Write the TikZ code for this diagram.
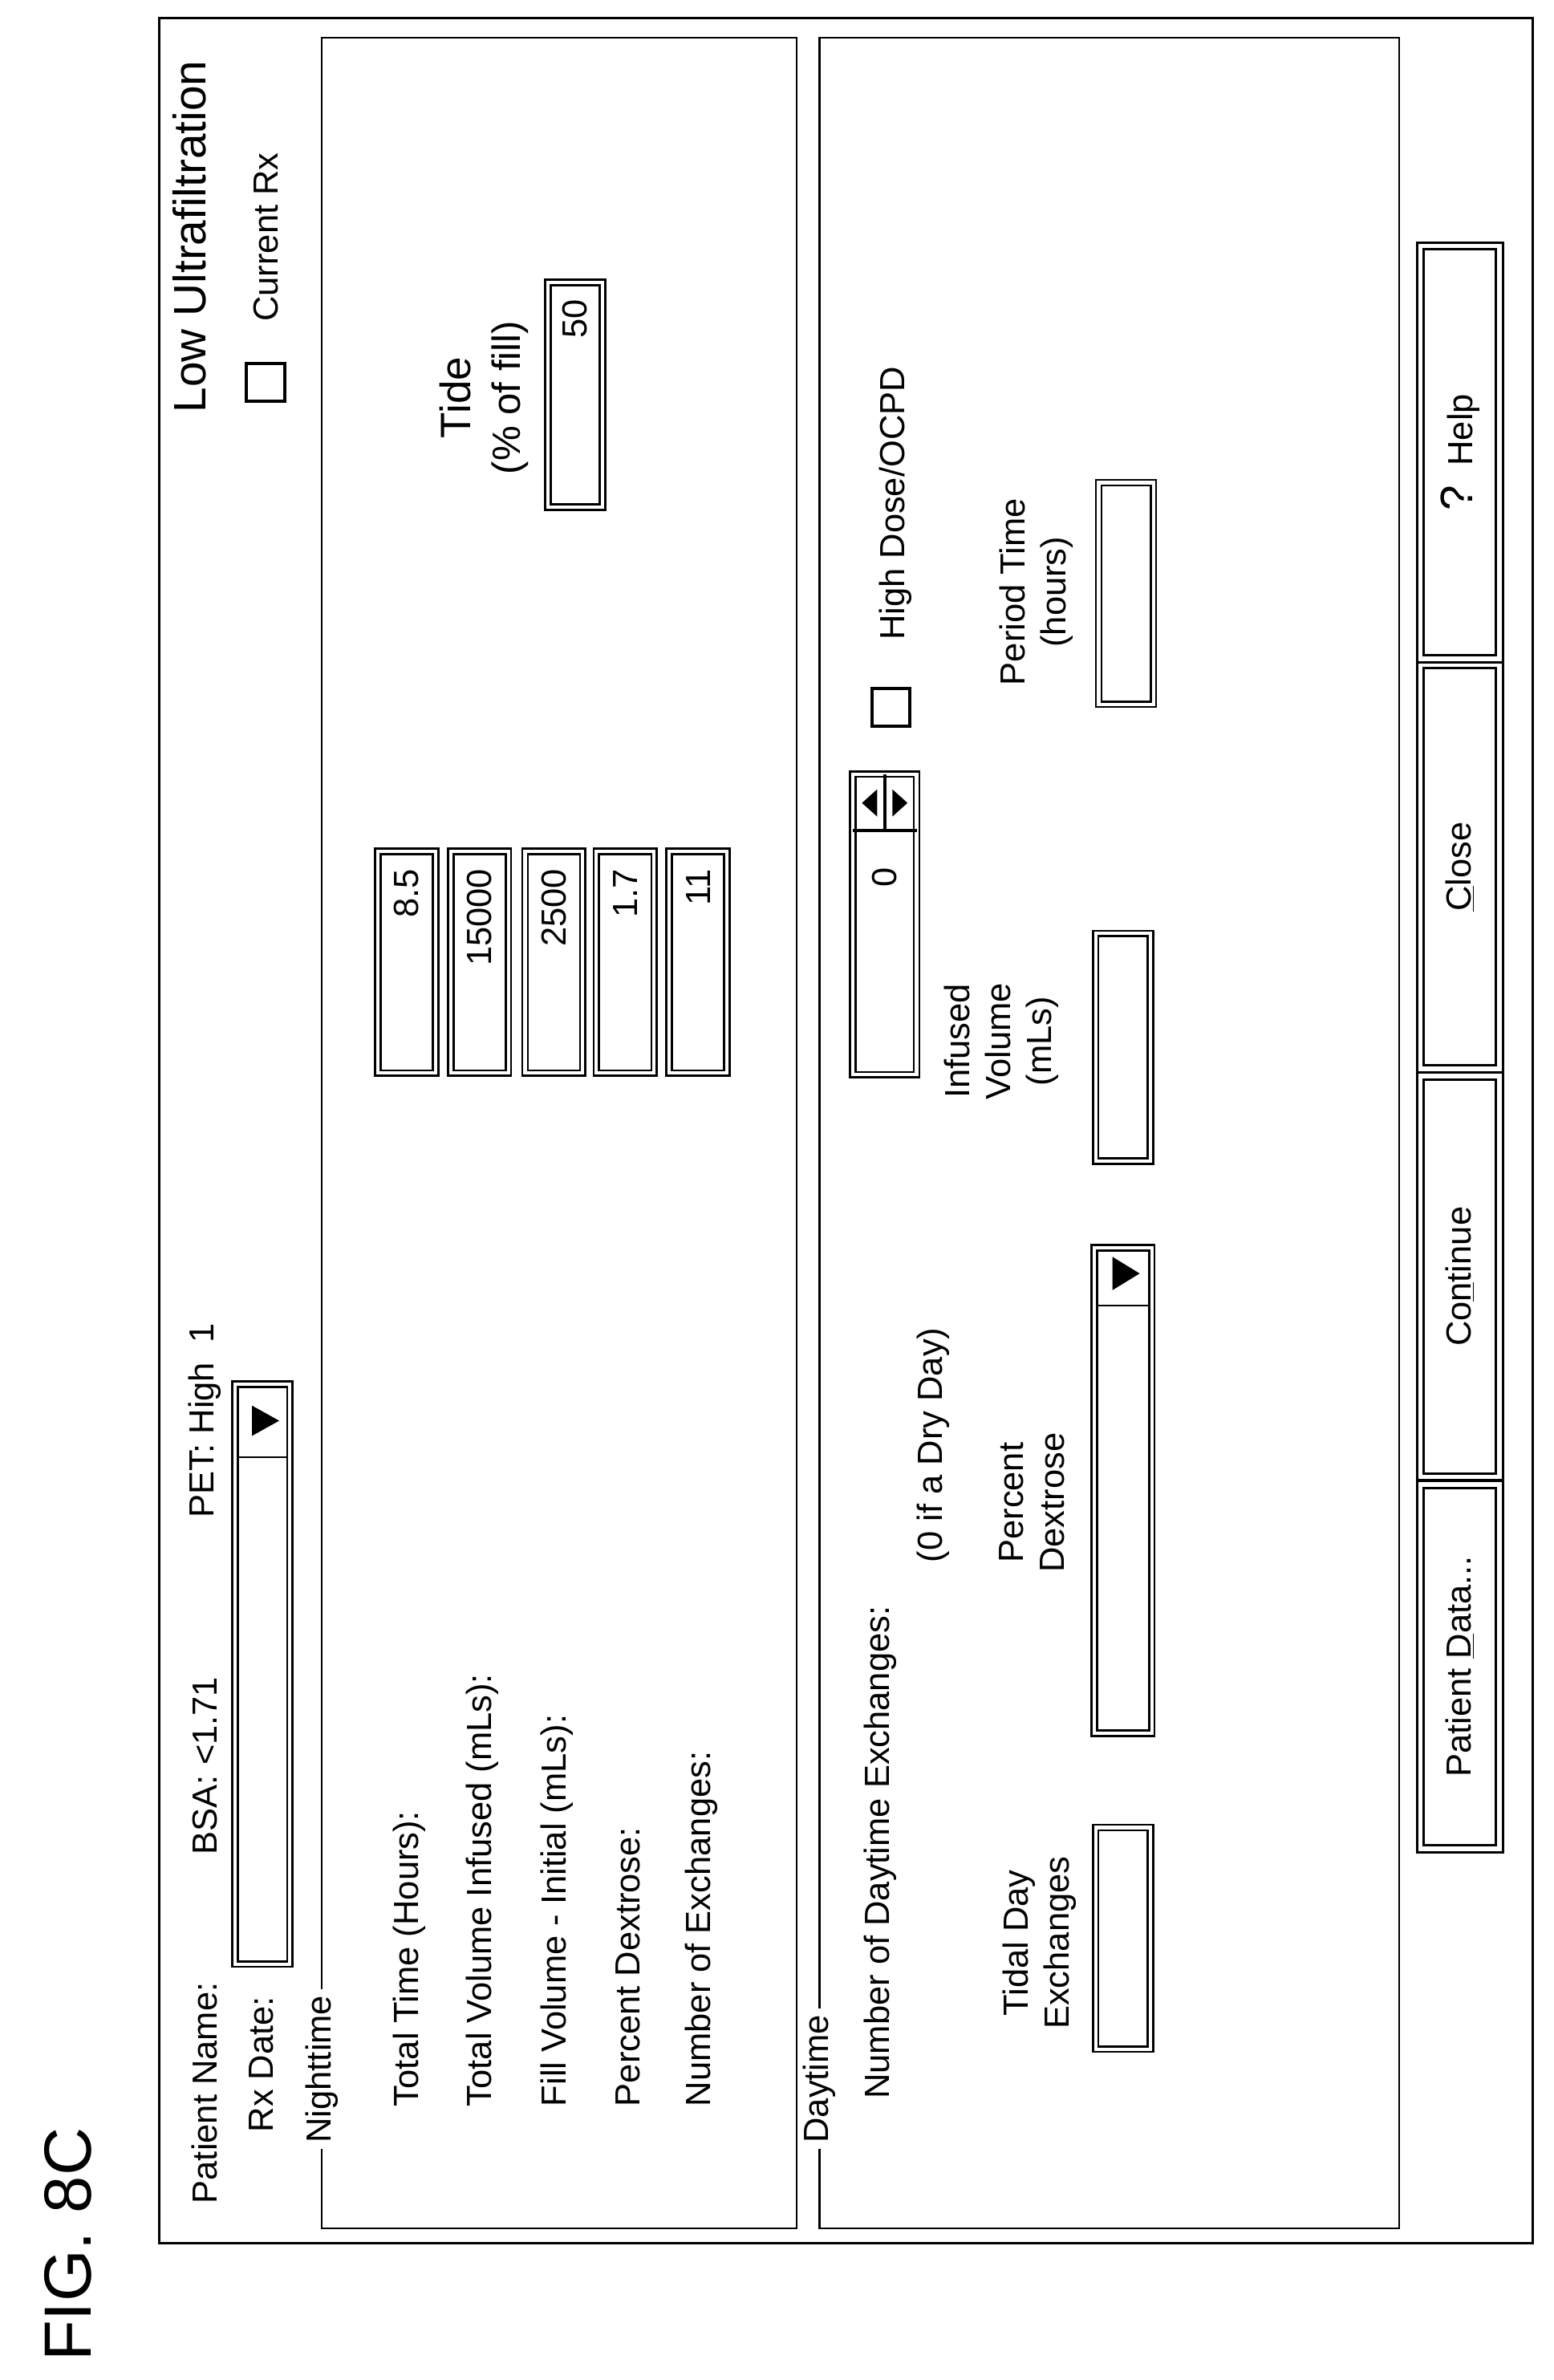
\documentclass[tikz,border=0pt]{standalone}
\usepackage{fontspec}
\setmainfont{Liberation Sans}
\usetikzlibrary{positioning}

\tikzset{
  lbl/.style={rotate=90, anchor=west, inner sep=0pt, font=\fontsize{23}{26}\selectfont},
  ctr/.style={rotate=90, anchor=center, inner sep=0pt, align=center, font=\fontsize{23}{27}\selectfont},
  field/.style={draw, line width=1.4pt, double, double distance=2.2pt, inner sep=0pt},
  button/.style={draw, line width=1.6pt, double, double distance=3pt, inner sep=0pt},
  group/.style={draw, line width=1.2pt},
  check/.style={draw, line width=2pt, inner sep=0pt, minimum size=25pt},
  tri/.style={fill=black},
}

\begin{document}
\begin{tikzpicture}[x=1pt, y=-1pt]
\useasboundingbox (0,0) rectangle (1024,1568);

% title
\node[lbl, font=\fontsize{44}{48}\selectfont] (fig) at (45,1556) {FIG. 8C};

% window and groups
\draw[line width=1.4pt] (105,12) rectangle (1010,1478);
\draw[group] (212,25) rectangle (525,1468);
\draw[group] (540,25) rectangle (922,1468);
\node[lbl, fill=white, inner sep=4pt] (night) at (212,1416) {Nighttime};
\node[lbl, fill=white, inner sep=4pt] (day) at (540,1416) {Daytime};

% header
\node[lbl] (pname) at (135,1452) {Patient Name:};
\node[lbl] (bsa) at (135,1222) {BSA: <1.71};
\node[lbl] (pet) at (135,1000) {PET: High \ 1};
\node[lbl] (rxdate) at (172,1405) {Rx Date:};
\node[field, minimum width=36pt, minimum height=382pt] (rxbox) at (173,1103) {};
\draw[line width=1.2pt] (157,960) -- (190,960);
\fill[tri] (166,926) -- (166,946) -- (184,936) -- cycle;

\node[lbl, font=\fontsize{30}{34}\selectfont] (lowuf) at (125,272) {Low Ultrafiltration};
\node[check] (currx) at (175,252) {};
\node[lbl] (currxl) at (175,212) {Current Rx};

% nighttime rows
\foreach \x/\txt/\val/\n in {270/Total Time (Hours):/8.5/a,
    318/Total Volume Infused (mLs):/15000/b,
    367/Fill Volume - Initial (mLs):/2500/c,
    414/Percent Dextrose:/1.7/d,
    462/Number of Exchanges:/11/e}{
  \node[lbl] (row\n) at (\x,1388) {\txt};
  \node[field, minimum width=38pt, minimum height=146pt] (box\n) at (\x-2,634) {};
  \node[lbl, anchor=east] (val\n) at ([yshift=-12pt]box\n.north) {\val};
}

\node[ctr, font=\fontsize{28}{32}\selectfont] (tide) at (300,262) {Tide};
\node[ctr, font=\fontsize{26}{30}\selectfont] (tidefill) at (336,262) {(\% of fill)};
\node[field, minimum width=36pt, minimum height=148pt] (tidebox) at (379,260) {};
\node[lbl, anchor=east] (tideval) at ([yshift=-12pt]tidebox.north) {50};

% daytime
\node[lbl] (nday) at (580,1383) {Number of Daytime Exchanges:};
\node[ctr] (dry) at (615,952) {(0 if a Dry Day)};
\node[field, minimum width=42pt, minimum height=198pt] (spin) at (583,609) {};
\draw[line width=2pt] (562,547) -- (604,547);
\draw[line width=2pt] (583,510) -- (583,547);
\fill[tri] (568,529) -- (578,520) -- (578,538) -- cycle;
\fill[tri] (598,529) -- (588,520) -- (588,538) -- cycle;
\node[lbl, anchor=east] (spinval) at ([yshift=-62pt]spin.north) {0};
\node[check] (hidose) at (587,466) {};
\node[lbl] (hidosel) at (590,422) {High Dose/OCPD};

\node[ctr] (tidal) at (685,1280) {Tidal Day\\Exchanges};
\node[field, minimum width=36pt, minimum height=146pt] (tidalbox) at (740,1277) {};
\node[ctr] (pdex) at (680,990) {Percent\\Dextrose};
\node[field, minimum width=38pt, minimum height=320pt] (pdexbox) at (740,982) {};
\draw[line width=1.2pt] (723,860) -- (757,860);
\fill[tri] (733,828) -- (733,850) -- (751,839) -- cycle;
\node[ctr] (infvol) at (660,686) {Infused\\Volume\\(mLs)};
\node[field, minimum width=36pt, minimum height=150pt] (infbox) at (740,690) {};
\node[ctr] (ptime) at (683,390) {Period Time\\(hours)};
\node[field, minimum width=36pt, minimum height=146pt] (pbox) at (742,391) {};

% buttons
\node[button, minimum width=52pt, minimum height=240pt] (bpd) at (962,1098) {};
\node[ctr] at (bpd) {Patient \underline{D}ata...};
\node[button, minimum width=52pt, minimum height=264pt] (bcont) at (962,841) {};
\node[ctr] at (bcont) {Co\underline{n}tinue};
\node[button, minimum width=52pt, minimum height=266pt] (bclose) at (962,571) {};
\node[ctr] at (bclose) {\underline{C}lose};
\node[button, minimum width=52pt, minimum height=272pt] (bhelp) at (962,298) {};
\node[ctr] at (bhelp) {{\fontsize{30}{30}\selectfont ?}\ \ Help};
\end{tikzpicture}
\end{document}
